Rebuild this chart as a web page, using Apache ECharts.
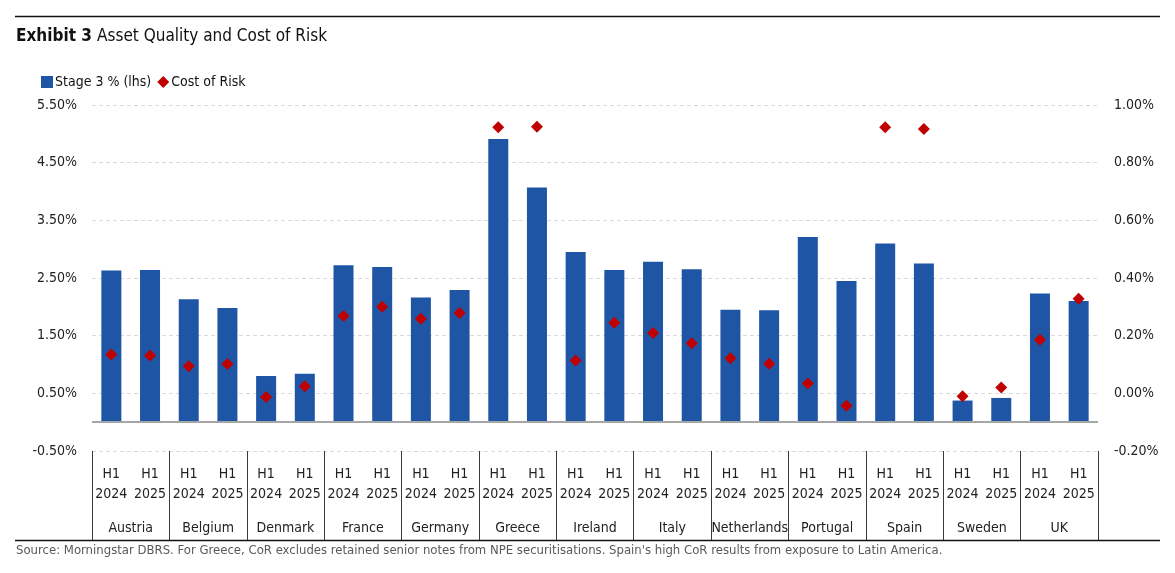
<!DOCTYPE html>
<html>
<head>
<meta charset="utf-8">
<script src="https://cdn.jsdelivr.net/npm/echarts@6/dist/echarts.min.js"></script>
<style>
html,body{margin:0;padding:0;background:#fff;}
#c{width:1175px;height:573px;}
</style>
</head>
<body>
<div id="c"></div>
<script>
// ---- data ----
const countries = ['Austria','Belgium','Denmark','France','Germany','Greece','Ireland','Italy','Netherlands','Portugal','Spain','Sweden','UK'];
const periods = ['H1\n2024','H1\n2025'];
const stage3 = [2.63,2.64, 2.13,1.98, 0.80,0.84, 2.72,2.69, 2.16,2.29, 4.91,4.07, 2.95,2.64, 2.78,2.65, 1.95,1.94, 3.21,2.45, 3.10,2.75, 0.375,0.42, 2.23,2.10];
const costOfRisk = [0.135,0.131, 0.094,0.102, -0.013,0.025, 0.268,0.300, 0.259,0.279, 0.923,0.925, 0.114,0.245, 0.209,0.174, 0.122,0.103, 0.034,-0.043, 0.923,0.917, -0.010,0.020, 0.186,0.328];
const leftTicks = [-0.5, 0.5, 1.5, 2.5, 3.5, 4.5, 5.5];

const periodLabels = [];
countries.forEach(() => periods.forEach(p => periodLabels.push(p)));

const FONT = "'DejaVu Sans Condensed', 'Liberation Sans', sans-serif";
const chart = echarts.init(document.getElementById('c'), null, {renderer: 'canvas'});

const option = {
  backgroundColor: '#ffffff',
  textStyle: {fontFamily: FONT},
  animation: false,
  title: {
    left: 16, top: 28, padding: 0,
    text: '{b|Exhibit 3} {n|Asset Quality and Cost of Risk}',
    textStyle: {
      fontWeight: 'normal',
      rich: {
        b: {fontFamily: FONT, fontSize: 17, fontWeight: 'bold', color: '#111'},
        n: {fontFamily: FONT, fontSize: 17, fontWeight: 'normal', color: '#111'}
      }
    }
  },
  legend: {
    left: 36, top: 70,
    itemWidth: 12, itemHeight: 12, itemGap: 6,
    textStyle: {fontFamily: FONT, fontSize: 14, color: '#111', padding: [0,0,0,-3]},
    data: [
      {name: 'Stage 3 % (lhs)', icon: 'rect'},
      {name: 'Cost of Risk', icon: 'diamond'}
    ]
  },
  grid: {left: 92, right: 77, top: 105, bottom: 122, containLabel: false},
  xAxis: [
    {
      type: 'category', data: periodLabels, position: 'bottom',
      axisLine: {show: false, onZero: false}, axisTick: {show: false},
      axisLabel: {interval: 0, margin: 13, fontFamily: FONT, fontSize: 14, lineHeight: 20, color: '#222'}
    },
    {
      type: 'category', data: countries, position: 'bottom',
      axisLine: {show: false, onZero: false},
      axisTick: {show: true, interval: 0, length: 89, lineStyle: {color: '#3a3a3a', width: 1}},
      axisLabel: {interval: 0, margin: 70, fontFamily: FONT, fontSize: 14, color: '#222'}
    }
  ],
  yAxis: [
    {
      type: 'value', min: -0.5, max: 5.5, position: 'left',
      axisLine: {show: false}, axisTick: {show: false},
      splitLine: {show: false},
      axisLabel: {
        customValues: leftTicks, margin: 15,
        fontFamily: FONT, fontSize: 14, color: '#222',
        formatter: v => v.toFixed(2) + '%'
      }
    },
    {
      type: 'value', min: -0.2, max: 1.0, interval: 0.2, position: 'right',
      axisLine: {show: false}, axisTick: {show: false},
      splitLine: {show: true, lineStyle: {color: '#d9d9d9', type: [4, 3], width: 1}},
      axisLabel: {
        margin: 16, fontFamily: FONT, fontSize: 14, color: '#222',
        formatter: v => v.toFixed(2) + '%'
      }
    }
  ],
  series: [
    {
      name: 'Stage 3 % (lhs)', type: 'bar', xAxisIndex: 0, yAxisIndex: 0,
      data: stage3, barWidth: 20,
      itemStyle: {color: '#1f55a5'},
      markLine: {
        silent: true, symbol: 'none', label: {show: false},
        lineStyle: {color: '#a6a6a6', type: 'solid', width: 2},
        data: [{yAxis: 0}]
      }
    },
    {
      name: 'Cost of Risk', type: 'scatter', xAxisIndex: 0, yAxisIndex: 1,
      data: costOfRisk, symbol: 'diamond', symbolSize: 12,
      itemStyle: {color: '#c00000', opacity: 1}, z: 5
    }
  ],
  graphic: [
    {type: 'line', shape: {x1: 15, y1: 16.5, x2: 1160, y2: 16.5}, style: {stroke: '#111', lineWidth: 1.5}},
    {type: 'line', shape: {x1: 15, y1: 540.5, x2: 1160, y2: 540.5}, style: {stroke: '#111', lineWidth: 1.5}},
    {type: 'text', left: 16, top: 544,
      style: {text: "Source: Morningstar DBRS. For Greece, CoR excludes retained senior notes from NPE securitisations. Spain's high CoR results from exposure to Latin America.",
        fontFamily: FONT, fontSize: 13, fill: '#595959'}}
  ]
};
chart.setOption(option);
</script>
</body>
</html>
